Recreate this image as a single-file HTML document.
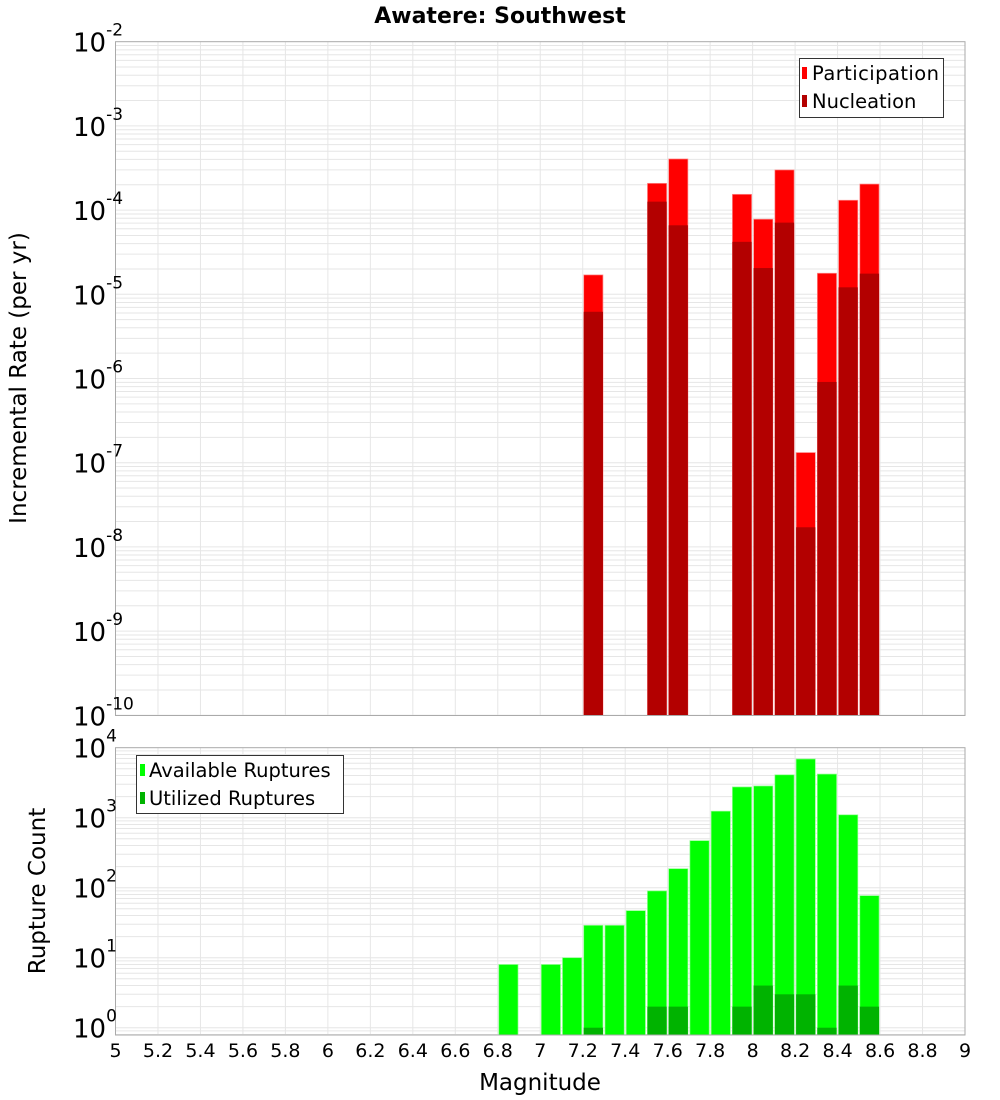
<!DOCTYPE html>
<html><head><meta charset="utf-8"><style>
body{margin:0;background:#fff}
svg{display:block;font-family:"DejaVu Sans","Liberation Sans",sans-serif}
</style></head><body>
<svg id="chart" width="1000" height="1100" xmlns="http://www.w3.org/2000/svg"></svg>
<script>
const magnitudes=[7.2,7.5,7.6,7.9,8.0,8.1,8.2,8.3,8.4,8.5];
const participation=[1.7e-5,2.08e-4,4.05e-4,1.54e-4,7.8e-5,3.0e-4,1.32e-7,1.78e-5,1.31e-4,2.04e-4];
const nucleation=[6.2e-6,1.26e-4,6.6e-5,4.2e-5,2.05e-5,7.1e-5,1.71e-8,9.1e-7,1.21e-5,1.76e-5];
const countMags=[6.8,7.0,7.1,7.2,7.3,7.4,7.5,7.6,7.7,7.8,7.9,8.0,8.1,8.2,8.3,8.4,8.5];
const available=[8,8,10,29,29,47,90,187,470,1240,2750,2840,4100,6900,4200,1100,77];
const utilizedMags=[7.2,7.5,7.6,7.9,8.0,8.1,8.2,8.3,8.4,8.5];
const utilized=[1,2,2,2,4,3,3,1,4,2];
const xTicks=[5,5.2,5.4,5.6,5.8,6,6.2,6.4,6.6,6.8,7,7.2,7.4,7.6,7.8,8,8.2,8.4,8.6,8.8,9];
const xTickLabels=["5","5.2","5.4","5.6","5.8","6","6.2","6.4","6.6","6.8","7","7.2","7.4","7.6","7.8","8","8.2","8.4","8.6","8.8","9"];
const topExps=[-2,-3,-4,-5,-6,-7,-8,-9,-10];
const botExps=[4,3,2,1,0];

const svg=document.getElementById('chart');
const NS='http://www.w3.org/2000/svg';
function mk(tag,attrs,parent,text){const e=document.createElementNS(NS,tag);for(const k in attrs)e.setAttribute(k,attrs[k]);if(text!==undefined)e.textContent=text;(parent||svg).appendChild(e);return e;}
const L=115.5,R=965;
const xs=m=>L+(m-5)/4*(R-L);
const T1=41.7,D1=84.2;
const y1=v=>T1+(-2-Math.log10(v))*D1;
const B1=715.5;
const Z2=1027.7,D2=70,T2=747.7,B2=1035;
const y2=v=>Z2-Math.log10(v)*D2;

function grid(top,bot,lo,hi,yf,g){
  for(const t of xTicks){mk('line',{x1:xs(t),x2:xs(t),y1:top,y2:bot,stroke:'#e6e6e6','stroke-width':1},g);}
  for(let e=lo;e<hi;e++){for(let k=1;k<10;k++){const yy=yf(k*Math.pow(10,e));if(yy<top-0.5||yy>bot+0.5)continue;mk('line',{x1:L,x2:R,y1:yy,y2:yy,stroke:'#e6e6e6','stroke-width':1},g);}}
}
const title=mk('text',{x:500,y:23,'text-anchor':'middle','font-size':22,'font-weight':'bold'},svg,'Awatere: Southwest');


const g1=mk('g',{});
grid(T1,B1,-10,-2,y1,g1);
magnitudes.forEach((m,i)=>{
  const x0=xs(m)+1,w=xs(m+0.1)-xs(m)-2;
  const p=mk('rect',{x:x0,y:y1(participation[i]),width:w,height:B1-y1(participation[i]),fill:'#ff0000',stroke:'#ff9090','stroke-width':0.7},g1);
  
  const n=mk('rect',{x:x0,y:y1(nucleation[i]),width:w,height:B1-y1(nucleation[i]),fill:'#b30000'},g1);
  
});
mk('rect',{x:L,y:T1,width:R-L,height:B1-T1,fill:'none',stroke:'#aaaaaa','stroke-width':1},g1);
topExps.forEach(e=>{const yy=y1(Math.pow(10,e));
  const t=mk('text',{x:73,y:yy+10,'font-size':26},g1);
  mk('tspan',{},t,'10');mk('tspan',{dy:-16,'font-size':17},t,String(e));});
const yt1=mk('text',{x:26,y:378,'font-size':23,'text-anchor':'middle',transform:'rotate(-90 26 378)'},g1,'Incremental Rate (per yr)');

const lg1=mk('g',{});
mk('rect',{x:799.5,y:58.5,width:144,height:59,fill:'#fff',stroke:'#333','stroke-width':1},lg1);
mk('rect',{x:802,y:67,width:5,height:12,fill:'#ff0000'},lg1);
mk('text',{x:812,y:80,'font-size':19.5,textLength:127},lg1,'Participation');
mk('rect',{x:802,y:95,width:5,height:12,fill:'#b30000'},lg1);
mk('text',{x:812,y:108,'font-size':19.5},lg1,'Nucleation');

const g2=mk('g',{});
grid(T2,B2,-1,4,y2,g2);
countMags.forEach((m,i)=>{
  const x0=xs(m)+1,w=xs(m+0.1)-xs(m)-2;
  const r=mk('rect',{x:x0,y:y2(available[i]),width:w,height:B2-y2(available[i]),fill:'#00ff00',stroke:'#90ff90','stroke-width':0.7},g2);
  
});
utilizedMags.forEach((m,i)=>{
  const x0=xs(m)+1,w=xs(m+0.1)-xs(m)-2;
  const r=mk('rect',{x:x0,y:y2(utilized[i]),width:w,height:B2-y2(utilized[i]),fill:'#00b300'},g2);
  
});
mk('rect',{x:L,y:T2,width:R-L,height:B2-T2,fill:'none',stroke:'#aaaaaa','stroke-width':1},g2);
botExps.forEach(e=>{const yy=y2(Math.pow(10,e));
  const t=mk('text',{x:73,y:yy+10,'font-size':26},g2);
  mk('tspan',{},t,'10');mk('tspan',{dy:-16,'font-size':17},t,String(e));});
const yt2=mk('text',{x:45,y:891,'font-size':23,'text-anchor':'middle',transform:'rotate(-90 45 891)'},g2,'Rupture Count');

xTicks.forEach((t,i)=>{const tx=mk('text',{x:xs(t),y:1057,'font-size':19,'text-anchor':'middle'},g2,xTickLabels[i]);
  });
const xt=mk('text',{x:540,y:1090,'font-size':23,'text-anchor':'middle'},g2,'Magnitude');

const lg2=mk('g',{});
mk('rect',{x:136.5,y:755.5,width:207,height:58,fill:'#fff',stroke:'#333','stroke-width':1},lg2);
mk('rect',{x:140,y:764,width:5,height:12,fill:'#00ff00'},lg2);
mk('text',{x:149,y:777,'font-size':19.5},lg2,'Available Ruptures');
mk('rect',{x:140,y:792,width:5,height:12,fill:'#00b300'},lg2);
mk('text',{x:149,y:805,'font-size':19.5},lg2,'Utilized Ruptures');
</script>
</body></html>
